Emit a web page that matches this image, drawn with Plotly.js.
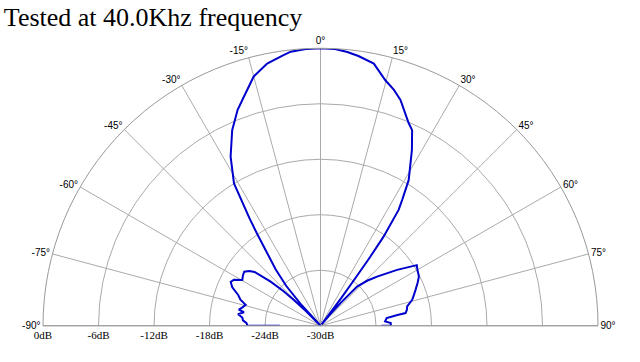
<!DOCTYPE html>
<html>
<head>
<meta charset="utf-8">
<script src="https://cdn.plot.ly/plotly-3.0.1.min.js"></script>
<style>html,body{margin:0;padding:0;background:#fff;}#chart{width:640px;height:362px;}</style>
</head>
<body>
<div id="chart"></div>
<script>
// Angle (degrees, 0 = on-axis) and measured level (dB)
var thetaDeg = [-90, -90, -88, -86, -84, -82, -80, -78.9, -77, -74.4, -72, -69.5, -66.5, -64, -62, -59.6, -57, -54.7, -52.5, -50.8, -48.5, -47, -46, -45, -43.5, -42.5, -40.7, -38.5, -36.3, -34.5, -33.4, -31.3, -28, -24.3, -21, -18.5, -15, -11.5, -8, -6.2, -3, 0, 3, 5.6, 8, 11.5, 14.8, 17.3, 19.5, 23.5, 25.1, 27.5, 31.2, 33, 34, 35.3, 35.8, 36.2, 36.8, 38, 40, 41.4, 43, 46, 49, 53.9, 57.8, 60, 63.4, 66, 69.2, 72, 74.2, 77.4, 79.5, 81.5, 82, 83.4, 86.2, 87.8, 90, 90];
var gainDb = [-25.6, -22.1, -22.0, -21.6, -21.5, -21.0, -21.6, -21.0, -21.3, -21.6, -20.9, -20.5, -19.6, -19.2, -19.4, -20.2, -20.0, -19.9, -20.3, -20.8, -22.8, -24.5, -26.0, -27.5, -30.0, -27.0, -24.3, -22.2, -20.3, -17.8, -16.0, -12.0, -9.3, -6.8, -5.0, -3.9, -2.1, -1.08, -0.5, -0.2, -0.05, 0, -0.05, -0.26, -0.55, -1.08, -2.55, -3.3, -4.1, -6.1, -6.65, -8.6, -11.6, -13.8, -14.9, -18.2, -20.8, -23.6, -26.2, -29.8, -28.5, -26.7, -24.2, -23.0, -21.9, -19.75, -17.7, -17.9, -18.1, -18.5, -19.0, -19.4, -19.7, -20.4, -20.5, -20.7, -21.6, -22.8, -23.0, -22.4, -22.4, -23.4];

var angleTicks = [-90, -75, -60, -45, -30, -15, 0, 15, 30, 45, 60, 75, 90];
var angleLabels = ["-90°", "-75°", "-60°", "-45°", "-30°", "-15°", "0°", "15°", "30°", "45°", "60°", "75°", "90°"];
var radialTicks = [-30, -24, -18, -12, -6, 0];
var radialLabels = ["-30dB", "-24dB", "-18dB", "-12dB", "-6dB", "0dB"];
var chartTitle = "Tested at 40.0Khz frequency";

var trace = {
  type: 'scatterpolar',
  mode: 'lines',
  theta: thetaDeg,
  r: gainDb,
  line: {color: 'rgb(0,0,205)', width: 2},
  hoverinfo: 'skip'
};

var layout = {
  width: 640,
  height: 362,
  margin: {l: 0, r: 0, t: 0, b: 0},
  paper_bgcolor: '#ffffff',
  showlegend: false,
  title: {
    text: chartTitle,
    x: 0.006, xanchor: 'left', xref: 'paper',
    y: 0.952, yanchor: 'middle', yref: 'container',
    font: {family: 'Liberation Serif, Times New Roman, serif', size: 26, color: '#000'}
  },
  polar: {
    domain: {x: [43/640, 598/640], y: [36/362, 314/362]},
    sector: [0, 180],
    bgcolor: '#ffffff',
    hole: 0,
    angularaxis: {
      rotation: 90,
      direction: 'clockwise',
      thetaunit: 'degrees',
      tickmode: 'array',
      tickvals: angleTicks,
      ticktext: angleLabels,
      ticks: '',
      showline: true,
      linecolor: '#999999',
      linewidth: 1,
      gridcolor: '#aaaaaa',
      gridwidth: 1,
      tickfont: {family: 'Liberation Sans, Arial, sans-serif', size: 10, color: '#000'}
    },
    radialaxis: {
      range: [-30, 0],
      angle: 180,
      side: 'counterclockwise',
      tickangle: 180,
      tickmode: 'array',
      tickvals: radialTicks,
      ticktext: radialLabels,
      ticks: '',
      showline: false,
      gridcolor: '#aaaaaa',
      gridwidth: 1,
      tickfont: {family: 'Liberation Serif, Times New Roman, serif', size: 11, color: '#000'}
    }
  }
};

Plotly.newPlot('chart', [trace], layout, {staticPlot: true, displayModeBar: false});
</script>
</body>
</html>
